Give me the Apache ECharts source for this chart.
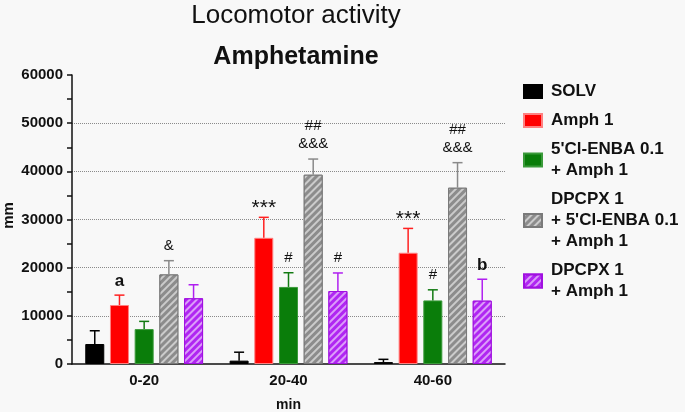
<!DOCTYPE html>
<html>
<head>
<meta charset="utf-8">
<script src="https://cdn.jsdelivr.net/npm/echarts@6/dist/echarts.min.js"></script>
<style>
  html, body { margin: 0; padding: 0; background: #f8f8f8; }
  #main { width: 685px; height: 412px; }
</style>
</head>
<body>
<div id="main"></div>
<script>
// data (mm, mean and upper SEM)
var categories = ['0-20', '20-40', '40-60'];
var seriesNames = ['SOLV', 'Amph 1', "5'Cl-ENBA 0.1\n+ Amph 1", "DPCPX 1\n+ 5'Cl-ENBA 0.1\n+ Amph 1", 'DPCPX 1\n+ Amph 1'];
var solvMean = [4150, 700, 400];
var solvErr = [2750, 1750, 570];
var amphMean = [12250, 26200, 23100];
var amphErr = [2050, 4250, 5050];
var enbaMean = [7250, 16000, 13200];
var enbaErr = [1600, 2950, 2200];
var dpcpxEnbaMean = [18600, 39300, 36600];
var dpcpxEnbaErr = [2850, 3250, 5200];
var dpcpxMean = [13650, 15150, 13150];
var dpcpxErr = [2800, 3750, 4450];
// significance marks
var solvSig = ['', '', ''];
var amphSig = ['a', '***', '***'];
var enbaSig = ['', '#', '#'];
var dpcpxEnbaSig = ['&', '##\n&&&', '##\n&&&'];
var dpcpxSig = ['', '#', 'b'];
var yTicks = [0, 10000, 20000, 30000, 40000, 50000, 60000];

var means = [solvMean, amphMean, enbaMean, dpcpxEnbaMean, dpcpxMean];
var errs = [solvErr, amphErr, enbaErr, dpcpxEnbaErr, dpcpxErr];
var sigs = [solvSig, amphSig, enbaSig, dpcpxEnbaSig, dpcpxSig];

var fills = ['#000000', '#ff0000', '#0a7d0a', '#8c8c8c', '#b026f2'];
var borders = ['#000000', '#ff8080', '#3a9a3a', '#7a7a7a', '#a010e0'];
var errColors = ['#000000', '#ff2020', '#127a12', '#8a8a8a', '#b020f0'];
var hatched = [false, false, false, true, true];

var BAR_W = 19;
var STEP = BAR_W * 1.3;

var myChart = echarts.init(document.getElementById('main'));

var series = [];
seriesNames.forEach(function (name, i) {
    var style = {
        color: fills[i],
        borderColor: borders[i],
        borderWidth: 1
    };
    if (hatched[i]) {
        style.decal = {
            symbol: 'rect',
            symbolSize: 1,
            color: 'rgba(255,255,255,0.55)',
            dashArrayX: [1, 0],
            dashArrayY: [2, 2.5],
            rotation: -Math.PI / 4
        };
    }
    series.push({
        name: name,
        type: 'bar',
        barWidth: BAR_W,
        barGap: '30%',
        data: means[i],
        itemStyle: style,
        emphasis: { disabled: true }
    });
});

// error bars + marks
seriesNames.forEach(function (name, i) {
    var rows = means[i].map(function (m, k) { return [k, m, errs[i][k], sigs[i][k]]; });
    series.push({
        name: name + ' err',
        type: 'custom',
        data: rows,
        z: 3,
        renderItem: function (params, api) {
            var k = api.value(0);
            var m = api.value(1);
            var e = api.value(2);
            var lab = rows[params.dataIndex][3];
            var base = api.coord([k, m]);
            var top = api.coord([k, m + e]);
            var x = base[0] + (i - 2) * STEP;
            var st = { stroke: errColors[i], lineWidth: 1.5 };
            var kids = [
                { type: 'line', shape: { x1: x, y1: base[1], x2: x, y2: top[1] }, style: st },
                { type: 'line', shape: { x1: x - 5, y1: top[1], x2: x + 5, y2: top[1] }, style: st }
            ];
            if (lab) {
                var letter = /^[a-z]$/.test(lab);
                var stars = lab.indexOf('*') >= 0;
                var font = letter ? 'bold 17px' : (stars ? '21px' : '15px');
                kids.push({
                    type: 'text',
                    style: {
                        text: lab,
                        x: x,
                        y: top[1] - (letter ? 5 : (stars ? 0 : 6)),
                        align: 'center',
                        verticalAlign: 'bottom',
                        font: font + ' "Liberation Sans", Arial, sans-serif',
                        lineHeight: 18,
                        fill: '#111'
                    }
                });
            }
            return { type: 'group', children: kids };
        }
    });
});

var option = {
    backgroundColor: '#f8f8f8',
    animation: false,
    title: [{
        text: 'Locomotor activity',
        left: 291,
        top: -2,
        textAlign: 'center',
        textStyle: { fontFamily: 'Liberation Sans', fontSize: 26, fontWeight: 'normal', color: '#111' }
    }, {
        text: 'Amphetamine',
        left: 291,
        top: 40,
        textAlign: 'center',
        textStyle: { fontFamily: 'Liberation Sans', fontSize: 25, fontWeight: 'bold', color: '#111' }
    }],
    legend: {
        orient: 'vertical',
        left: 518,
        top: 76,
        data: seriesNames,
        icon: 'rect',
        itemWidth: 18,
        itemHeight: 13,
        itemGap: 8,
        selectedMode: false,
        textStyle: {
            fontFamily: 'Liberation Sans', fontSize: 17, fontWeight: 'bold', color: '#111',
            lineHeight: 21, padding: [0, 0, 0, 4]
        }
    },
    grid: { left: 72, right: 180, top: 75, bottom: 48, outerBoundsMode: 'none' },
    xAxis: {
        type: 'category',
        data: categories,
        name: 'min',
        nameLocation: 'middle',
        nameGap: 34,
        nameTextStyle: { fontFamily: 'Liberation Sans', fontSize: 14, fontWeight: 'bold', color: '#111' },
        axisLine: { lineStyle: { color: '#111', width: 1.5 } },
        axisTick: { show: false },
        axisLabel: { margin: 9, fontFamily: 'Liberation Sans', fontSize: 15, fontWeight: 'bold', color: '#111' }
    },
    yAxis: {
        type: 'value',
        min: yTicks[0],
        max: yTicks[yTicks.length - 1],
        interval: 10000,
        name: 'mm',
        nameLocation: 'middle',
        nameRotate: 90,
        nameGap: 56,
        nameMoveOverlap: false,
        nameTextStyle: { fontFamily: 'Liberation Sans', fontSize: 15, fontWeight: 'bold', color: '#111', padding: [0, 0, 0, 8] },
        axisLine: { show: true, lineStyle: { color: '#111', width: 1.5 } },
        axisTick: { show: true, length: 5, lineStyle: { color: '#111', width: 1.5 } },
        minorTick: { show: true, splitNumber: 2, length: 5, lineStyle: { color: '#111', width: 1.5 } },
        axisLabel: {
            margin: 9, fontFamily: 'Liberation Sans', fontSize: 15, fontWeight: 'bold', color: '#111',
            formatter: function (v) { return String(v); }
        },
        splitLine: {
            show: true,
            lineStyle: {
                type: 'dotted',
                width: 1,
                color: ['transparent', '#8a8a8a', '#8a8a8a', '#8a8a8a', '#8a8a8a', '#8a8a8a', 'transparent']
            }
        }
    },
    series: series
};
myChart.setOption(option);
</script>
</body>
</html>
